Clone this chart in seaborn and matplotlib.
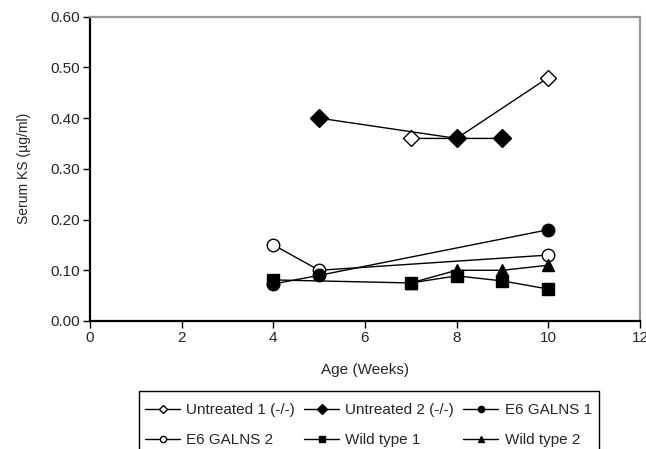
import matplotlib
matplotlib.use("Agg")
import matplotlib.pyplot as plt
from matplotlib.patches import Rectangle
import seaborn as sns
import pandas as pd

# ---- data ----
series_names = ["Untreated 1 (-/-)", "Untreated 2 (-/-)", "E6 GALNS 1",
                "E6 GALNS 2", "Wild type 1", "Wild type 2"]
untreated1_x = [7, 8, 10]
untreated1_y = [0.36, 0.36, 0.48]
untreated2_x = [5, 8, 9]
untreated2_y = [0.40, 0.36, 0.36]
galns1_x = [4, 5, 10]
galns1_y = [0.073, 0.09, 0.18]
galns2_x = [4, 5, 10]
galns2_y = [0.15, 0.10, 0.13]
wt1_x = [4, 7, 8, 9, 10]
wt1_y = [0.081, 0.075, 0.089, 0.079, 0.063]
wt2_x = [7, 8, 9, 10]
wt2_y = [0.075, 0.10, 0.10, 0.11]

x_ticks = [0, 2, 4, 6, 8, 10, 12]
y_ticks = [0.0, 0.1, 0.2, 0.3, 0.4, 0.5, 0.6]

xs = [untreated1_x, untreated2_x, galns1_x, galns2_x, wt1_x, wt2_x]
ys = [untreated1_y, untreated2_y, galns1_y, galns2_y, wt1_y, wt2_y]

# styles
markers = ["D", "D", "o", "o", "s", "^"]
faces = ["white", "black", "black", "white", "black", "black"]
msizes = [8, 9.5, 9, 9, 9, 9]
zorders = [3, 4, 5, 2, 6, 7]

sns.set_style("white")
plt.rcParams["font.family"] = ["Liberation Sans", "DejaVu Sans"]
plt.rcParams["font.size"] = 11

W, H = 646, 449
fig = plt.figure(figsize=(W / 100, H / 100), dpi=100)
ax = fig.add_axes([90 / W, 1 - 321 / H, 550 / W, (321 - 16.7) / H])

for name, x, y, m, fc, ms, z in zip(series_names, xs, ys, markers, faces, msizes, zorders):
    df = pd.DataFrame({"x": x, "y": y})
    sns.lineplot(data=df, x="x", y="y", ax=ax, color="black", linewidth=1.0,
                 marker=m, markersize=ms, markerfacecolor=fc,
                 markeredgecolor="black", markeredgewidth=1.0,
                 label=name, zorder=z, legend=False)

ax.set_xlim(0, 12)
ax.set_ylim(0, 0.6)
ax.set_xticks(x_ticks)
ax.set_xticklabels([str(v) for v in x_ticks])
ax.set_yticks(y_ticks)
ax.set_yticklabels([f"{v:.2f}" for v in y_ticks])
ax.set_xlabel("Age (Weeks)", fontsize=11, labelpad=13)
ax.set_ylabel("Serum KS (\u00b5g/ml)", fontsize=10, labelpad=14)

for side in ["left", "bottom"]:
    ax.spines[side].set_color("black")
    ax.spines[side].set_linewidth(1.6)
for side in ["top", "right"]:
    ax.spines[side].set_color("#999999")
    ax.spines[side].set_linewidth(1.6)

ax.tick_params(axis="both", direction="out", length=5, width=1, color="black",
               labelsize=11, bottom=True, left=True, pad=2.5)
ax.grid(False)

handles, labels = ax.get_legend_handles_labels()
# row-wise order for a 3-column, 2-row legend
order = [0, 3, 1, 4, 2, 5]
handles = [handles[i] for i in order]
labels = [labels[i] for i in order]
leg = fig.legend(handles, labels, ncol=3, loc="upper left",
                 bbox_to_anchor=(145 / W, 1 - 403 / H),
                 frameon=False,
                 fontsize=11, markerscale=0.5, handlelength=2.3,
                 handletextpad=0.4, columnspacing=0.6, labelspacing=1.05,
                 borderpad=0, borderaxespad=0)
# legend box (extends below the figure edge, as in the reference)
fig.patches.append(Rectangle((139 / W, 1 - 470 / H), (599 - 139) / W, (470 - 391) / H,
                             transform=fig.transFigure, fill=False,
                             edgecolor="black", linewidth=1.0))

fig.savefig("out.png", dpi=100)
